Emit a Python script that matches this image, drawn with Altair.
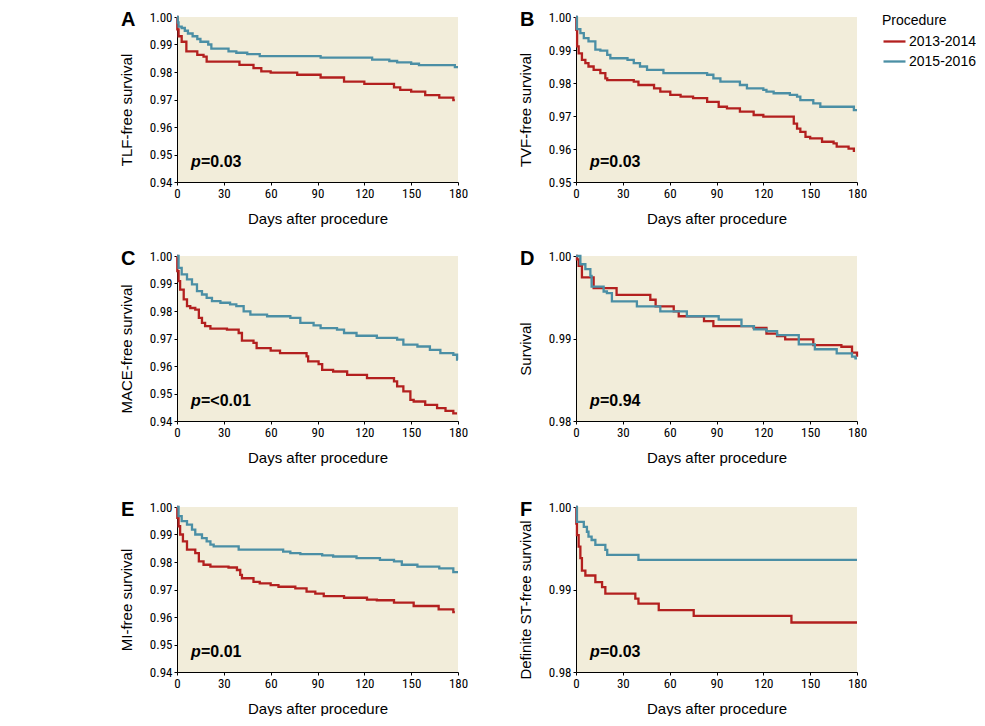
import altair as alt
import pandas as pd

# ---------------- data ----------------
GROUPS = ["2013-2014", "2015-2016"]
COLORS = ["#b3201f", "#4b8fa5"]

# Panel A: TLF-free survival
A_red_days = [0, 0.2, 1, 3, 6, 13, 17, 19, 40, 49, 54, 60, 77, 92, 107, 120, 139, 143, 150, 159, 168, 177, 178]
A_red_surv = [1.0, 0.9955, 0.993, 0.991, 0.9875, 0.9862, 0.9856, 0.9838, 0.9826, 0.9814, 0.9802, 0.9798, 0.979, 0.978, 0.9765, 0.9757, 0.9744, 0.9735, 0.9729, 0.9716, 0.9707, 0.9698, 0.9698]
A_teal_days = [0, 0.5, 1, 3, 5, 7, 10, 13, 15, 20, 22, 33, 38, 45, 53, 92, 125, 136, 141, 150, 155, 178, 180]
A_teal_surv = [1.0, 0.998, 0.9965, 0.996, 0.995, 0.994, 0.993, 0.992, 0.991, 0.990, 0.9885, 0.9875, 0.987, 0.9865, 0.9858, 0.9852, 0.9845, 0.984, 0.9835, 0.983, 0.9825, 0.9818, 0.9818]

# Panel B: TVF-free survival
B_red_days = [0, 0.2, 0.7, 1.7, 3.8, 6, 8, 11.3, 15.6, 18.8, 20, 37, 40, 50, 54, 60.4, 67, 75, 84, 91.4, 96.7, 105, 113.8, 120, 139.5, 141.6, 143.7, 147, 150, 157.6, 165, 167, 174.6, 178]
B_red_surv = [1.0, 0.9961, 0.9911, 0.989, 0.987, 0.986, 0.985, 0.984, 0.983, 0.9814, 0.9809, 0.9804, 0.9794, 0.9784, 0.9774, 0.9764, 0.9759, 0.9754, 0.9743, 0.9728, 0.9723, 0.9713, 0.9703, 0.9698, 0.9677, 0.9662, 0.9652, 0.9637, 0.9632, 0.9622, 0.9617, 0.9607, 0.9601, 0.9591]
B_teal_days = [0, 0.6, 2.8, 5, 8, 12.4, 15.6, 20, 22, 33, 37, 41, 45.5, 56, 84, 88, 92.5, 105, 109.5, 120, 122, 126.6, 137, 141.6, 143.7, 152, 156.5, 178, 180]
B_teal_surv = [1.0, 0.9963, 0.9951, 0.9936, 0.9926, 0.9901, 0.9898, 0.9885, 0.9875, 0.987, 0.986, 0.985, 0.984, 0.983, 0.9825, 0.9814, 0.9804, 0.9794, 0.9784, 0.9779, 0.9774, 0.9769, 0.9764, 0.9759, 0.9748, 0.9738, 0.9728, 0.9718, 0.9718]

# Panel C: MACE-free survival
C_red_days = [0, 0.2, 1, 2, 4.3, 6.4, 8.5, 11.7, 14, 16, 18, 21.4, 32, 39.5, 41.6, 49, 51, 60, 66, 83, 84, 90.7, 93, 100, 109, 121.7, 139, 141, 145, 149.5, 151.6, 159, 166.6, 172, 177, 179.4]
C_red_surv = [1.0, 0.9945, 0.9909, 0.9878, 0.9842, 0.9818, 0.9811, 0.9805, 0.9775, 0.9757, 0.9745, 0.9736, 0.9732, 0.972, 0.9692, 0.9684, 0.9665, 0.9656, 0.9647, 0.9635, 0.9617, 0.9607, 0.9586, 0.958, 0.9568, 0.9556, 0.9544, 0.9526, 0.9508, 0.9477, 0.9471, 0.9459, 0.9447, 0.9437, 0.9428, 0.9428]
C_teal_days = [0, 1, 3, 6.4, 9.6, 12.8, 16, 19, 22.4, 27.8, 34, 38, 42.7, 47, 57.7, 72.6, 79, 87.5, 92, 102.5, 107, 115, 128, 141, 145, 154, 162, 168.7, 177, 179.4, 180]
C_teal_surv = [1.0, 0.9957, 0.9933, 0.9915, 0.9897, 0.9872, 0.986, 0.9848, 0.9836, 0.983, 0.9824, 0.9818, 0.9799, 0.9787, 0.9781, 0.9775, 0.9757, 0.9748, 0.9738, 0.9732, 0.972, 0.971, 0.9702, 0.9696, 0.9678, 0.9671, 0.9659, 0.9647, 0.9641, 0.9623, 0.9623]

# Panel D: Survival
D_red_days = [0, 0.6, 1.7, 3.8, 11.3, 26, 47.6, 51, 62.6, 65.8, 82, 88, 113.8, 122, 128.8, 134, 152, 170, 176.8, 180]
D_red_surv = [1.0, 0.9996, 0.9988, 0.9974, 0.9961, 0.9953, 0.9947, 0.9939, 0.9933, 0.9927, 0.9921, 0.9915, 0.9913, 0.9906, 0.9903, 0.9899, 0.9892, 0.9890, 0.9883, 0.9878]
D_teal_days = [0, 2.8, 6, 9.2, 10, 17.7, 19.8, 23, 39, 54, 71, 91.4, 106, 114, 122, 128.8, 142.7, 153, 167, 176.8, 179, 180]
D_teal_surv = [1.0, 0.999, 0.9984, 0.9976, 0.9963, 0.9957, 0.9955, 0.9945, 0.9939, 0.9933, 0.9927, 0.9923, 0.9915, 0.9911, 0.9909, 0.9904, 0.9893, 0.9887, 0.9882, 0.9878, 0.9876, 0.9876]

# Panel E: MI-free survival
E_red_days = [0, 0.2, 1, 2, 3.8, 6.4, 11.7, 14, 17, 21.4, 33, 38.4, 40.5, 41.6, 49, 53, 60, 65, 75.8, 83, 88.6, 94, 107, 121.7, 128, 139, 151.6, 167.6, 177, 178]
E_red_surv = [1.0, 0.9961, 0.993, 0.990, 0.9875, 0.9845, 0.9832, 0.9802, 0.979, 0.9783, 0.978, 0.9771, 0.9753, 0.9741, 0.9728, 0.9722, 0.9716, 0.971, 0.9704, 0.9692, 0.9685, 0.9676, 0.967, 0.9663, 0.9661, 0.9652, 0.964, 0.9628, 0.9618, 0.9618]
E_teal_days = [0, 1, 3, 6.4, 9.6, 11.7, 16, 19, 21.4, 23.5, 39.5, 68, 72.6, 79, 93, 100, 115, 130, 139, 144, 154, 168, 177, 180]
E_teal_surv = [1.0, 0.9967, 0.9949, 0.9936, 0.9918, 0.990, 0.9887, 0.9875, 0.9863, 0.9857, 0.9845, 0.9838, 0.9832, 0.9829, 0.9824, 0.982, 0.9814, 0.9808, 0.9802, 0.979, 0.9783, 0.9777, 0.9763, 0.9763]

# Panel F: Definite ST-free survival
F_red_days = [0, 0.2, 0.6, 1.7, 2.8, 3.8, 6, 12.4, 16.7, 18.8, 38, 40, 53, 75.4, 138, 180]
F_red_surv = [1.0, 0.998, 0.9966, 0.9952, 0.9938, 0.9923, 0.9917, 0.9909, 0.9903, 0.9895, 0.9889, 0.9883, 0.9875, 0.9868, 0.986, 0.986]
F_teal_days = [0, 0.6, 5, 7, 8, 10, 12.4, 18.8, 20, 40, 180]
F_teal_surv = [1.0, 0.9982, 0.9976, 0.997, 0.9964, 0.996, 0.9954, 0.9948, 0.9942, 0.9936, 0.9936]

PANELS = [
    ("A", "TLF-free survival", "=0.03", [0.94, 0.95, 0.96, 0.97, 0.98, 0.99, 1.00], A_red_days, A_red_surv, A_teal_days, A_teal_surv),
    ("B", "TVF-free survival", "=0.03", [0.95, 0.96, 0.97, 0.98, 0.99, 1.00], B_red_days, B_red_surv, B_teal_days, B_teal_surv),
    ("C", "MACE-free survival", "=<0.01", [0.94, 0.95, 0.96, 0.97, 0.98, 0.99, 1.00], C_red_days, C_red_surv, C_teal_days, C_teal_surv),
    ("D", "Survival", "=0.94", [0.98, 0.99, 1.00], D_red_days, D_red_surv, D_teal_days, D_teal_surv),
    ("E", "MI-free survival", "=0.01", [0.94, 0.95, 0.96, 0.97, 0.98, 0.99, 1.00], E_red_days, E_red_surv, E_teal_days, E_teal_surv),
    ("F", "Definite ST-free survival", "=0.03", [0.98, 0.99, 1.00], F_red_days, F_red_surv, F_teal_days, F_teal_surv),
]
X_TICKS = [0, 30, 60, 90, 120, 150, 180]

W, H = 281, 165
LABEL_FONT = "Liberation Sans Narrow, Roboto Condensed, Liberation Sans, Arial, sans-serif"
TITLE_FONT = "Liberation Sans, Arial, sans-serif"


def panel(letter, ytitle, ptext, yticks, rd, rs, td, ts):
    df = pd.concat([
        pd.DataFrame({"day": rd, "surv": rs, "Procedure": GROUPS[0]}),
        pd.DataFrame({"day": td, "surv": ts, "Procedure": GROUPS[1]}),
    ])
    lines = alt.Chart(df).mark_line(interpolate="step-after", strokeWidth=2.3).encode(
        x=alt.X("day:Q", scale=alt.Scale(domain=[0, 180], nice=False),
                axis=alt.Axis(values=X_TICKS, title="Days after procedure", format="d",
                              labelFlush=False)),
        y=alt.Y("surv:Q", scale=alt.Scale(domain=[yticks[0], 1.0], nice=False, zero=False),
                axis=alt.Axis(values=yticks, format=".2f", title=ytitle, titleY=H / 2 + 10)),
        color=alt.Color("Procedure:N", scale=alt.Scale(domain=GROUPS, range=COLORS),
                        legend=alt.Legend(title="Procedure")),
        order=alt.Order("day:Q"),
    )
    lab = pd.DataFrame({"t": [letter], "p": ["p"], "v": [ptext]})
    letter_txt = alt.Chart(lab).mark_text(
        align="left", baseline="alphabetic", font=TITLE_FONT, fontSize=20, fontWeight="bold", color="black"
    ).encode(text="t:N", x=alt.value(-56), y=alt.value(9))
    p_txt = alt.Chart(lab).mark_text(
        align="left", baseline="alphabetic", font=TITLE_FONT, fontSize=16, fontWeight="bold",
        fontStyle="italic", color="black"
    ).encode(text="p:N", x=alt.value(14), y=alt.value(H - 15))
    v_txt = alt.Chart(lab).mark_text(
        align="left", baseline="alphabetic", font=TITLE_FONT, fontSize=16, fontWeight="bold", color="black"
    ).encode(text="v:N", x=alt.value(24), y=alt.value(H - 15))
    return alt.layer(lines, letter_txt, p_txt, v_txt).properties(width=W, height=H)


charts = [panel(*p) for p in PANELS]
row1 = alt.hconcat(charts[0], charts[1], spacing=50)
row2 = alt.hconcat(charts[2], charts[3], spacing=50)
row3 = alt.hconcat(charts[4], charts[5], spacing=50)
top = alt.vconcat(row1, row2, spacing=23)
chart = alt.vconcat(top, row3, spacing=35).properties(
    padding={"left": 111, "top": 2, "right": 0, "bottom": 0}
).configure_view(
    fill="#f2edda", stroke=None
).configure_axis(
    domainColor="black", domainWidth=1, tickColor="black", tickSize=3, tickWidth=1,
    labelFont=LABEL_FONT, labelFontSize=13, labelColor="black", labelPadding=2,
    titleFont=TITLE_FONT, titleFontSize=15, titleFontWeight="normal", titleColor="black",
    grid=False,
).configure_axisX(titlePadding=11).configure_axisY(titlePadding=15).configure_legend(
    orient="none", legendX=705, legendY=-3, titleFont=TITLE_FONT, titleFontSize=14,
    titleFontWeight="normal", titleColor="black", labelFont=TITLE_FONT, labelFontSize=14,
    labelColor="black", symbolType="stroke", symbolSize=484, symbolStrokeWidth=2.3,
    rowPadding=0, titlePadding=1, labelOffset=2,
).configure_concat(spacing=50)

chart.save("out.html", embed_options={"renderer": "svg", "actions": False})
